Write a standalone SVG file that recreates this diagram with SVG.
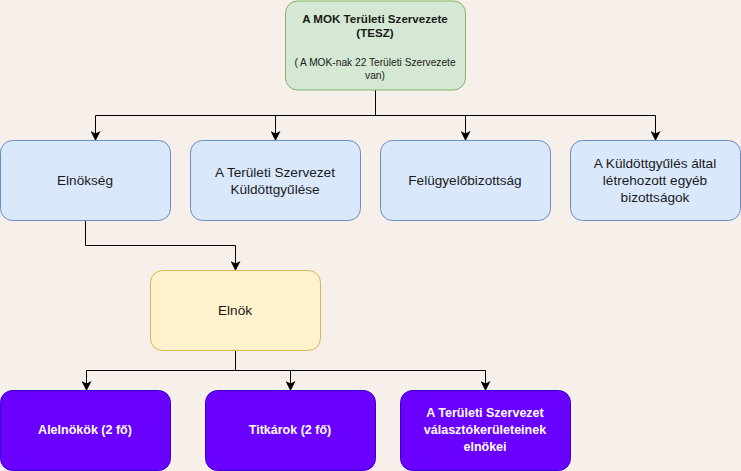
<svg xmlns="http://www.w3.org/2000/svg" width="741" height="471" viewBox="0 0 741 471">
<defs>
<marker id="arr" viewBox="0 0 10 10" refX="9" refY="5" markerWidth="10" markerHeight="10" markerUnits="userSpaceOnUse" orient="auto">
<path d="M0,0 L10,5 L0,10 L2.5,5 Z" fill="#000"/>
</marker>
<style>
text{font-family:"Liberation Sans",Arial,sans-serif;text-anchor:middle;dominant-baseline:central}
.green{fill:#d5e8d4;stroke:#82b366;stroke-width:1}
.blue{fill:#dae8fc;stroke:#6c8ebf;stroke-width:1}
.yellow{fill:#fff2cc;stroke:#d6b656;stroke-width:1}
.purple{fill:#6a00ff;stroke:#3700cc;stroke-width:1}
.t{font-size:13.6px;fill:#1a1a1a}
.tw{font-size:12.5px;font-weight:bold;fill:#ffffff}
.tb{font-size:11.6px;font-weight:bold;fill:#1a1a1a}
.ts{font-size:10.2px;fill:#1a1a1a}
.c{fill:none;stroke:#000;stroke-width:1;marker-end:url(#arr)}
</style>
</defs>
<rect width="741" height="471" fill="#f7efe9"/>
<g id="connectors">
<path class="c" d="M375.5,90 V115.5 H95.5 V140"/>
<path class="c" d="M275.5,115.5 V140"/>
<path class="c" d="M375.5,115.5 H465.5 V140"/>
<path class="c" d="M465.5,115.5 H655.5 V140"/>
<path class="c" d="M85.5,220 V245.5 H235.5 V270"/>
<path class="c" d="M235.5,350 V370.5 H86.5 V390"/>
<path class="c" d="M235.5,370.5 H290.5 V390"/>
<path class="c" d="M290.5,370.5 H485.5 V390"/>
</g>
<g id="tesz">
<rect class="green" x="285.5" y="1" width="180" height="89" rx="12"/>
<text class="tb" x="375" y="18">A MOK Területi Szervezete</text>
<text class="tb" x="375" y="32">(TESZ)</text>
<text class="ts" x="375" y="62">( A MOK-nak 22 Területi Szervezete</text>
<text class="ts" x="375" y="75">van)</text>
</g>
<g id="elnokseg">
<rect class="blue" x="0.5" y="140.5" width="170" height="80" rx="12"/>
<text class="t" x="85" y="180">Elnökség</text>
</g>
<g id="kuldottgyules">
<rect class="blue" x="190.5" y="140.5" width="170" height="80" rx="12"/>
<text class="t" x="275" y="172">A Területi Szervezet</text>
<text class="t" x="275" y="189">Küldöttgyűlése</text>
</g>
<g id="felugyelo">
<rect class="blue" x="380.5" y="140.5" width="170" height="80" rx="12"/>
<text class="t" x="465" y="180">Felügyelőbizottság</text>
</g>
<g id="egyeb">
<rect class="blue" x="570.5" y="140.5" width="170" height="80" rx="12"/>
<text class="t" x="655" y="163">A Küldöttgyűlés által</text>
<text class="t" x="655" y="180">létrehozott egyéb</text>
<text class="t" x="655" y="197">bizottságok</text>
</g>
<g id="elnok">
<rect class="yellow" x="150.5" y="270.5" width="170" height="80" rx="12"/>
<text class="t" x="235" y="310">Elnök</text>
</g>
<g id="alelnokok">
<rect class="purple" x="0.5" y="390.5" width="170" height="80" rx="12"/>
<text class="tw" x="85" y="430">Alelnökök (2 fő)</text>
</g>
<g id="titkarok">
<rect class="purple" x="205.5" y="390.5" width="170" height="80" rx="12"/>
<text class="tw" x="290" y="430">Titkárok (2 fő)</text>
</g>
<g id="valasztokeruleti">
<rect class="purple" x="400.5" y="390.5" width="170" height="80" rx="12"/>
<text class="tw" x="485" y="413">A Területi Szervezet</text>
<text class="tw" x="485" y="430">választókerületeinek</text>
<text class="tw" x="485" y="447">elnökei</text>
</g>
</svg>
